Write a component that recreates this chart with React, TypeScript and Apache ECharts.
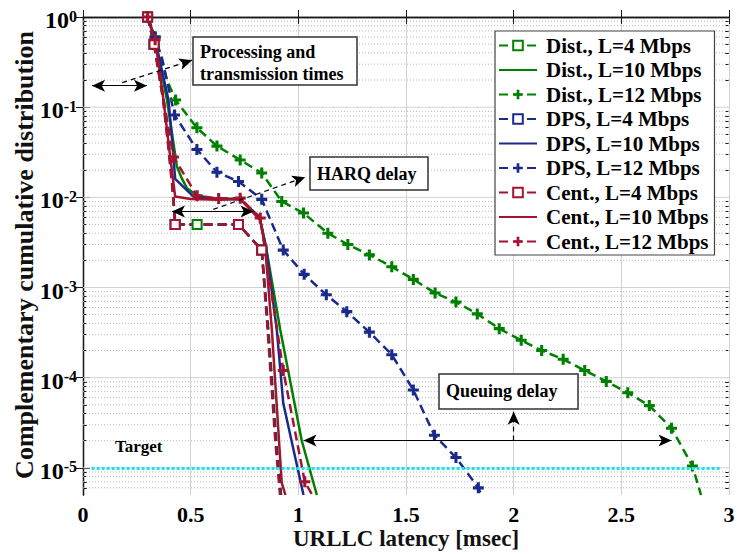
import React, { useEffect, useRef } from 'react';
import * as echarts from 'echarts';

// ---------- data (x in msec, y = complementary CDF) ----------
const seriesNames = [
  'Dist., L=4 Mbps', 'Dist., L=10 Mbps', 'Dist., L=12 Mbps',
  'DPS, L=4 Mbps', 'DPS, L=10 Mbps', 'DPS, L=12 Mbps',
  'Cent., L=4 Mbps', 'Cent., L=10 Mbps', 'Cent., L=12 Mbps',
];
const solidNames = ['Dist., L=10 Mbps', 'DPS, L=10 Mbps', 'Cent., L=10 Mbps'];
const xTicks = [0, 0.5, 1, 1.5, 2, 2.5, 3];
const yDecades = [-5, -4, -3, -2, -1, 0];
const yMin = 5e-6;
const yMax = 1;

const distL4 = [[0.30, 1], [0.33, 0.5], [0.375, 0.12], [0.40, 0.035], [0.418, 0.012], [0.428, 0.005], [0.53, 0.005], [0.63, 0.005], [0.722, 0.005], [0.83, 0.0026], [0.862, 3.2e-4], [0.898, 2e-5], [0.92, 5e-6]];
const distL4Marks = [0, 1, 5, 6, 8, 9];
const distL10 = [[0.30, 1], [0.335, 0.56], [0.39, 0.12], [0.42, 0.04], [0.436, 0.022], [0.46, 0.016], [0.483, 0.0126], [0.53, 0.0105], [0.6, 0.0098], [0.73, 0.0096], [0.82, 0.006], [0.85, 0.0028], [0.916, 3.4e-4], [1.016, 2e-5], [1.086, 5e-6]];
const distL12 = [[0.30, 1], [0.335, 0.6], [0.39, 0.2], [0.43, 0.12], [0.529, 0.059], [0.622, 0.037], [0.73, 0.026], [0.83, 0.0186], [0.923, 0.009], [1.024, 0.0067], [1.137, 0.004], [1.23, 0.003], [1.33, 0.0023], [1.434, 0.0017], [1.534, 0.00123], [1.635, 8.7e-4], [1.732, 6.9e-4], [1.831, 5.1e-4], [1.933, 3.5e-4], [2.035, 2.6e-4], [2.13, 2.0e-4], [2.23, 1.6e-4], [2.33, 1.2e-4], [2.43, 9.1e-5], [2.53, 6.8e-5], [2.63, 4.9e-5], [2.733, 2.75e-5], [2.83, 1.05e-5], [2.87, 5e-6]];
const distL12Marks = [0, 1, 3, 4, 5, 6, 7, 8, 9, 10, 11, 12, 13, 14, 15, 16, 17, 18, 19, 20, 21, 22, 23, 24, 25, 26, 27];

const dpsL4 = [[0.30, 1], [0.33, 0.5], [0.373, 0.12], [0.398, 0.035], [0.417, 0.012], [0.428, 0.005], [0.53, 0.005], [0.63, 0.005], [0.722, 0.005], [0.83, 0.0026], [0.86, 3.2e-4], [0.895, 2e-5], [0.918, 5e-6]];
const dpsL4Marks = [0, 1, 5, 8, 9];
const dpsL10 = [[0.30, 1], [0.335, 0.56], [0.397, 0.12], [0.415, 0.04], [0.428, 0.016], [0.513, 0.0102], [0.6, 0.0096], [0.73, 0.0095], [0.82, 0.006], [0.85, 0.0028], [0.90, 3.4e-4], [0.93, 5.2e-5], [1.024, 5e-6]];
const dpsL12 = [[0.30, 1], [0.335, 0.6], [0.368, 0.34], [0.425, 0.082], [0.529, 0.034], [0.622, 0.019], [0.722, 0.015], [0.83, 0.0095], [0.93, 0.0026], [1.027, 0.0014], [1.13, 8.3e-4], [1.225, 5.4e-4], [1.33, 3.2e-4], [1.434, 1.8e-4], [1.534, 7.3e-5], [1.632, 2.3e-5], [1.732, 1.3e-5], [1.836, 6e-6], [1.85, 5e-6]];
const dpsL12Marks = [0, 1, 3, 4, 5, 6, 7, 8, 9, 10, 11, 12, 13, 14, 15, 16, 17];

const centL4 = [[0.30, 1], [0.33, 0.5], [0.372, 0.12], [0.397, 0.035], [0.416, 0.012], [0.428, 0.005], [0.53, 0.005], [0.63, 0.005], [0.722, 0.005], [0.83, 0.0026], [0.858, 3.2e-4], [0.893, 2e-5], [0.915, 5e-6]];
const centL4Marks = [0, 1, 5, 8, 9];
const centL10 = [[0.30, 1], [0.335, 0.56], [0.374, 0.12], [0.405, 0.028], [0.428, 0.0102], [0.5, 0.0096], [0.63, 0.0094], [0.73, 0.0096], [0.823, 0.0056], [0.846, 0.0028], [0.877, 3.4e-4], [0.923, 6.8e-6], [0.94, 5e-6]];
const centL12 = [[0.30, 1], [0.335, 0.56], [0.372, 0.13], [0.42, 0.028], [0.53, 0.0104], [0.63, 0.0097], [0.73, 0.0098], [0.823, 0.0059], [0.93, 1.2e-4], [1.03, 7e-6], [1.065, 5e-6]];
const centL12Marks = [0, 1, 3, 4, 5, 6, 7, 8, 9];

// annotation arrows in data units [x, y]
const targetLevel = 1e-5;
const arrowProc = [[0.042, 0.173], [0.297, 0.173]];
const arrowProcDash = [[0.182, 0.187], [0.507, 0.332]];
const arrowHarq = [[0.413, 0.00695], [0.792, 0.00695]];
const arrowHarqDash = [[0.605, 0.00736], [1.032, 0.01675]];
const arrowQueue = [[1.024, 2.01e-5], [2.733, 2.01e-5]];
const arrowQueueDash = [[2.0, 2.01e-5], [2.0, 4.2e-5]];

// ---------- styles ----------
const FONT = '"Liberation Serif", "Times New Roman", serif';
const GREEN = '#008000';
const BLUE = '#1a2a8c';
const RED = '#a2142f';
const PLUS = 'path://M3.6,0H6.4V3.6H10V6.4H6.4V10H3.6V6.4H0V3.6H3.6Z';
const DASH = [9, 5];

const lg = (v: number) => Math.log10(v);

function makeLine(name: string, pts: number[][], marks: number[], color: string, dashed: boolean, symbol: string) {
  const isRect = symbol === 'emptyRect';
  return {
    name,
    type: 'line',
    xAxisIndex: 0,
    yAxisIndex: 0,
    z: 3,
    data: pts.map(([x, y], i) => ({
      value: [x, lg(y)],
      symbol: marks.includes(i) ? symbol : 'none',
    })),
    symbol,
    symbolSize: isRect ? 9 : 11,
    showSymbol: true,
    showAllSymbol: true,
    lineStyle: { color, width: 2.5, type: dashed ? DASH : 'solid' },
    itemStyle: { color, borderColor: color, borderWidth: isRect ? 2.5 : 0 },
    emphasis: { disabled: true },
    silent: true,
  };
}

function arrow(pts: number[][], both: boolean, dashed: boolean) {
  const ls = { color: '#000', width: 1.2, type: dashed ? [5, 4] : 'solid' };
  return [
    { coord: [pts[0][0], lg(pts[0][1])], symbol: both ? 'arrow' : 'none', lineStyle: ls },
    { coord: [pts[1][0], lg(pts[1][1])], symbol: 'arrow', lineStyle: ls },
  ];
}

const gridRows: number[][] = [];
for (let d = -6; d <= -1; d++) {
  for (let k = 1; k <= 9; k++) {
    const v = k * Math.pow(10, d);
    if (v > yMin * 1.0001 && v < yMax) gridRows.push([0, lg(v), k === 1 ? 1 : 0]);
  }
}
const minorTicks = gridRows.filter((r) => r[2] === 0).map((r) => r[1]);

const lblText = { fontFamily: FONT, fontWeight: 'bold', color: '#000' };

const baseY = {
  type: 'value',
  min: lg(yMin),
  max: lg(yMax),
  splitLine: { show: false },
  axisLabel: { show: false },
};

const option: any = {
  animation: false,
  backgroundColor: '#fff',
  grid: { left: 83, top: 17, width: 646, height: 478, outerBoundsMode: 'none' },
  xAxis: [
    {
      type: 'value', min: xTicks[0], max: xTicks[xTicks.length - 1], interval: 0.5, position: 'bottom',
      axisLine: { show: true, lineStyle: { color: '#1a1a1a', width: 1.3 } },
      axisTick: { show: true, inside: true, length: 7, lineStyle: { color: '#1a1a1a' } },
      axisLabel: { ...lblText, fontSize: 22, lineHeight: 22, margin: 8, formatter: (v: number) => String(v) },
      splitLine: { show: true, lineStyle: { color: '#d2d2d2', width: 1 } },
      name: 'URLLC latency [msec]', nameLocation: 'middle', nameGap: 32, nameMoveOverlap: false,
      nameTextStyle: { ...lblText, fontSize: 23, lineHeight: 23, color: '#111' },
    },
    {
      type: 'value', min: 0, max: 3, interval: 0.5, position: 'top',
      axisLine: { show: true, lineStyle: { color: '#1a1a1a', width: 1.3 } },
      axisTick: { show: true, inside: true, length: 7, lineStyle: { color: '#1a1a1a' } },
      axisLabel: { show: false }, splitLine: { show: false },
    },
  ],
  yAxis: [
    {
      ...baseY, position: 'left',
      axisLine: { show: true, lineStyle: { color: '#1a1a1a', width: 1.3 } },
      axisTick: { show: true, inside: true, length: 7, customValues: yDecades, lineStyle: { color: '#1a1a1a' } },
      axisLabel: {
        show: true, customValues: yDecades, margin: 6, padding: [6, 0, 0, 0],
        formatter: (v: number) => `{b|10}{e|${Math.round(v)}}`,
        rich: {
          b: { ...lblText, fontSize: 24, lineHeight: 24, verticalAlign: 'bottom' },
          e: { ...lblText, fontSize: 16, lineHeight: 16, verticalAlign: 'top', padding: [0, 0, 12, 0] },
        },
      },
      name: 'Complementary cumulative distribution', nameLocation: 'middle', nameGap: 46, nameMoveOverlap: false,
      nameTextStyle: { ...lblText, fontSize: 26, color: '#111', padding: [0, 0, 0, 2] },
    },
    {
      ...baseY, position: 'right',
      axisLine: { show: true, lineStyle: { color: '#1a1a1a', width: 1.3 } },
      axisTick: { show: true, inside: true, length: 7, customValues: yDecades, lineStyle: { color: '#1a1a1a' } },
    },
    {
      ...baseY, position: 'left', axisLine: { show: false },
      axisTick: { show: true, inside: true, length: 4, customValues: minorTicks, lineStyle: { color: '#1a1a1a' } },
    },
    {
      ...baseY, position: 'right', axisLine: { show: false },
      axisTick: { show: true, inside: true, length: 4, customValues: minorTicks, lineStyle: { color: '#1a1a1a' } },
    },
  ],
  legend: {
    data: seriesNames.map((n) => (solidNames.includes(n) ? { name: n, itemStyle: { opacity: 0 } } : { name: n })),
    orient: 'vertical',
    left: 495,
    top: 31,
    padding: [4, 6, 3, 3],
    itemGap: 3.5,
    itemWidth: 38,
    itemHeight: 12,
    backgroundColor: '#fff',
    borderColor: '#444',
    borderWidth: 1.2,
    borderRadius: 0,
    selectedMode: false,
    textStyle: { ...lblText, fontSize: 21, lineHeight: 21, padding: [0, 0, 0, 4] },
    z: 10,
  },
  series: [
    {
      type: 'custom', name: 'gridlines', z: 1, silent: true,
      xAxisIndex: 0, yAxisIndex: 0,
      data: gridRows,
      renderItem: (params: any, api: any) => {
        const y = api.value(1);
        const major = api.value(2) === 1;
        const p1 = api.coord([0, y]);
        const p2 = api.coord([3, y]);
        return {
          type: 'line',
          shape: { x1: p1[0], y1: p1[1], x2: p2[0], y2: p2[1] },
          style: major
            ? { stroke: '#d2d2d2', lineWidth: 1 }
            : { stroke: '#b8b8b8', lineWidth: 1, lineDash: [1, 2] },
          silent: true,
        };
      },
    },
    makeLine(seriesNames[0], distL4, distL4Marks, GREEN, true, 'emptyRect'),
    makeLine(seriesNames[1], distL10, [], GREEN, false, 'none'),
    makeLine(seriesNames[2], distL12, distL12Marks, GREEN, true, PLUS),
    makeLine(seriesNames[3], dpsL4, dpsL4Marks, BLUE, true, 'emptyRect'),
    makeLine(seriesNames[4], dpsL10, [], BLUE, false, 'none'),
    makeLine(seriesNames[5], dpsL12, dpsL12Marks, BLUE, true, PLUS),
    makeLine(seriesNames[6], centL4, centL4Marks, RED, true, 'emptyRect'),
    makeLine(seriesNames[7], centL10, [], RED, false, 'none'),
    {
      ...makeLine(seriesNames[8], centL12, centL12Marks, RED, true, PLUS),
      markLine: {
        silent: true,
        symbolSize: [9, 13],
        label: { show: false },
        emphasis: { disabled: true },
        animation: false,
        data: [
          [
            { coord: [0.04, lg(targetLevel)], symbol: 'none', lineStyle: { color: '#19e3ee', width: 3, type: [3, 2] } },
            { coord: [2.96, lg(targetLevel)], symbol: 'none', lineStyle: { color: '#19e3ee', width: 3, type: [3, 2] } },
          ],
          arrow(arrowProc, true, false),
          arrow(arrowProcDash, false, true),
          arrow(arrowHarq, true, false),
          arrow(arrowHarqDash, false, true),
          arrow(arrowQueue, true, false),
          arrow(arrowQueueDash, false, true),
        ],
      },
    },
  ],
  graphic: [
    { type: 'rect', z: 20, shape: { x: 193, y: 37, width: 164, height: 48 }, style: { fill: '#fff', stroke: '#333', lineWidth: 1.5 } },
    { type: 'text', z: 21, style: { x: 200, y: 41, text: 'Processing and\ntransmission times', fontFamily: FONT, fontWeight: 'bold', fontSize: 18, lineHeight: 22, fill: '#000', verticalAlign: 'top' } },
    { type: 'rect', z: 20, shape: { x: 310, y: 157, width: 118, height: 33 }, style: { fill: '#fff', stroke: '#333', lineWidth: 1.5 } },
    { type: 'text', z: 21, style: { x: 317, y: 173.5, text: 'HARQ delay', fontFamily: FONT, fontWeight: 'bold', fontSize: 18, fill: '#000', verticalAlign: 'middle' } },
    { type: 'rect', z: 20, shape: { x: 439, y: 374, width: 139, height: 35 }, style: { fill: '#fff', stroke: '#333', lineWidth: 1.5 } },
    { type: 'text', z: 21, style: { x: 446, y: 391, text: 'Queuing delay', fontFamily: FONT, fontWeight: 'bold', fontSize: 18, fill: '#000', verticalAlign: 'middle' } },
    { type: 'text', z: 21, style: { x: 115, y: 446, text: 'Target', fontFamily: FONT, fontWeight: 'bold', fontSize: 17, fill: '#000', verticalAlign: 'middle' } },
  ],
};

export default function App() {
  const ref = useRef<HTMLDivElement>(null);
  useEffect(() => {
    const chart = echarts.init(ref.current!, null, { renderer: 'svg' });
    chart.setOption(option);
    return () => chart.dispose();
  }, []);
  return (
    <div
      ref={ref}
      style={{ position: 'fixed', left: 0, top: 0, width: 737, height: 554, background: '#fff' }}
    />
  );
}
